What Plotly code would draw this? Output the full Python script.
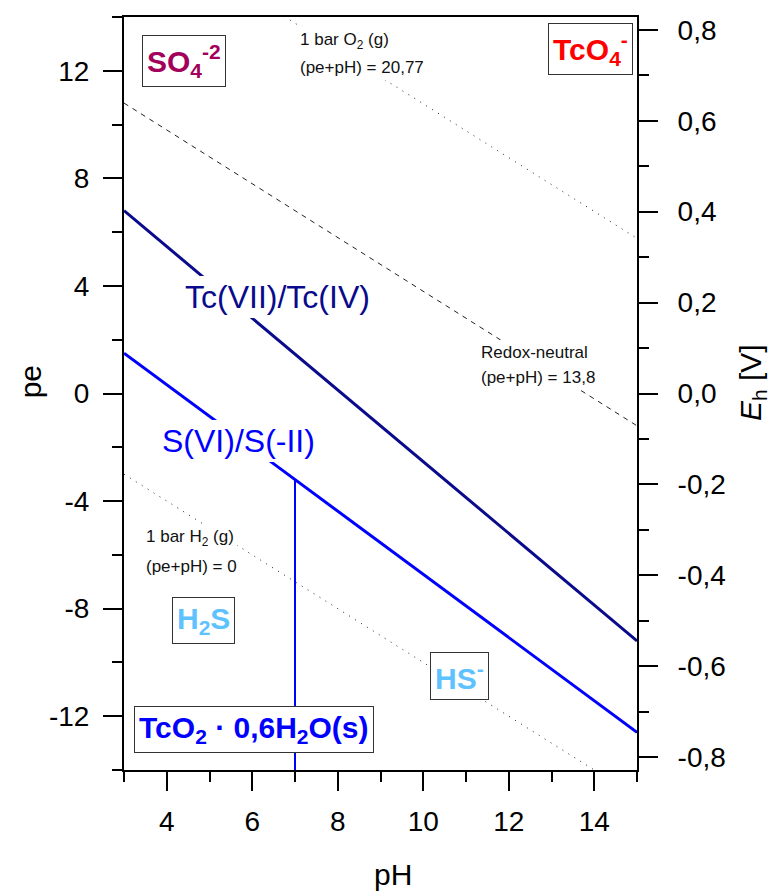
import plotly.graph_objects as go

# ---- data -------------------------------------------------------------
ph_limits = [3, 15]
pe_limits = [-14, 14]
eh_per_pe = 0.05916          # V per pe unit at 25 °C

# Tc(VII)/Tc(IV) boundary
tc_ph = [3, 15]
tc_pe = [6.8, -9.2]

# S(VI)/S(-II) boundary
s_ph = [3, 7, 15]
s_pe = [1.5, -3.2, -12.6]

# H2S / HS- boundary (pKa ~ 7)
hs_ph = [7, 7]
hs_pe = [-3.2, -14]

# water stability / redox reference lines: pe + pH = const
o2_sum = 20.77
neutral_sum = 13.8
h2_sum = 0.0

pe_ticks = [-12, -8, -4, 0, 4, 8, 12]
pe_minor = [-14, -10, -6, -2, 2, 6, 10, 14]
ph_ticks = [4, 6, 8, 10, 12, 14]
ph_minor = [3, 5, 7, 9, 11, 13, 15]
eh_ticks = [-0.8, -0.6, -0.4, -0.2, 0.0, 0.2, 0.4, 0.6, 0.8]
eh_minor = [-0.7, -0.5, -0.3, -0.1, 0.1, 0.3, 0.5, 0.7]


def pe_line(total):
    return [total - p for p in ph_limits]


def comma(v, nd):
    return f"{v:.{nd}f}".replace(".", ",")


FONT = "Arial, Liberation Sans, sans-serif"
NAVY = "#0a0a8c"
BLUE = "#0000ff"

fig = go.Figure()

# reference lines
fig.add_trace(go.Scatter(x=ph_limits, y=pe_line(o2_sum), mode="lines",
                         line=dict(color="#222", width=1, dash="1px,6px"),
                         hoverinfo="skip", showlegend=False))
fig.add_trace(go.Scatter(x=ph_limits, y=pe_line(neutral_sum), mode="lines",
                         line=dict(color="#222", width=1, dash="5px,5px"),
                         hoverinfo="skip", showlegend=False))
fig.add_trace(go.Scatter(x=ph_limits, y=pe_line(h2_sum), mode="lines",
                         line=dict(color="#222", width=1, dash="1px,6px"),
                         hoverinfo="skip", showlegend=False))

# species boundaries
fig.add_trace(go.Scatter(x=tc_ph, y=tc_pe, mode="lines",
                         line=dict(color=NAVY, width=3),
                         hoverinfo="skip", showlegend=False))
fig.add_trace(go.Scatter(x=s_ph, y=s_pe, mode="lines",
                         line=dict(color=BLUE, width=3),
                         hoverinfo="skip", showlegend=False))
fig.add_trace(go.Scatter(x=hs_ph, y=hs_pe, mode="lines",
                         line=dict(color=BLUE, width=2),
                         hoverinfo="skip", showlegend=False))

# carrier trace for the Eh axis
fig.add_trace(go.Scatter(x=ph_limits, y=[0, 0], yaxis="y2", mode="lines",
                         line=dict(width=0), opacity=0,
                         hoverinfo="skip", showlegend=False))

annotations = []


def label(x, y, text, color, size, bold=False, box=False, xanchor="center"):
    if bold:
        text = f"<b>{text}</b>"
    annotations.append(dict(
        x=x, y=y, xref="x", yref="y", text=text, showarrow=False,
        xanchor=xanchor, yanchor="middle",
        font=dict(family=FONT, size=size, color=color),
        bgcolor="white", borderpad=3 if not box else 4,
        bordercolor="#333" if box else "rgba(0,0,0,0)",
        borderwidth=1 if box else 0,
    ))


label(6.58, 3.6, "Tc(VII)/Tc(IV)", NAVY, 32)
label(5.67, -1.75, "S(VI)/S(-II)", BLUE, 32)

label(4.40, 12.37, "SO<sub>4</sub><sup>-2</sup>", "#a3005c", 30, bold=True, box=True)
label(13.92, 12.81, "TcO<sub>4</sub><sup>-</sup>", "#ff0000", 30, bold=True, box=True)
label(4.87, -8.43, "H<sub>2</sub>S", "#5ec2ff", 30, bold=True, box=True)
label(10.84, -10.51, "HS<sup>-</sup>", "#5ec2ff", 30, bold=True, box=True)
label(6.05, -12.51, "TcO<sub>2</sub> · 0,6H<sub>2</sub>O(s)", BLUE, 30, bold=True, box=True)

label(7.05, 13.11, "1 bar O<sub>2</sub> (g)", "#111", 17, xanchor="left")
label(7.05, 12.14, f"(pe+pH) = {comma(o2_sum, 2)}", "#111", 17, xanchor="left")
label(11.28, 1.52, "Redox-neutral", "#111", 17, xanchor="left")
label(11.28, 0.59, f"(pe+pH) = {comma(neutral_sum, 1)}", "#111", 17, xanchor="left")
label(3.44, -5.38, "1 bar H<sub>2</sub> (g)", "#111", 17, xanchor="left")
label(3.44, -6.42, f"(pe+pH) = {comma(h2_sum, 0)}", "#111", 17, xanchor="left")

# axis titles
title_font = dict(family=FONT, size=30, color="black")
annotations += [
    dict(x=-0.183, y=0.515, xref="paper", yref="paper", text="pe",
         textangle=-90, showarrow=False, xanchor="center", yanchor="middle",
         font=title_font),
    dict(x=0.524, y=-0.1625, xref="paper", yref="paper", text="pH",
         showarrow=False, xanchor="center", yanchor="bottom",
         borderpad=0, font=title_font),
    dict(x=1.224, y=0.515, xref="paper", yref="paper",
         text="<i>E</i><sub>h</sub> [V]", textangle=-90, showarrow=False,
         xanchor="center", yanchor="middle", font=title_font),
]

tick_font = dict(family=FONT, size=28, color="black")
minor_style = dict(ticks="outside", ticklen=10, tickwidth=2, tickcolor="black")

fig.update_layout(
    width=775, height=893,
    margin=dict(l=124, r=138, t=17, b=123),
    plot_bgcolor="white", paper_bgcolor="white",
    annotations=annotations,
    xaxis=dict(range=ph_limits, tickvals=ph_ticks,
               ticktext=[str(v) for v in ph_ticks],
               ticks="outside", ticklen=19, tickwidth=2, tickcolor="black",
               minor=dict(tickvals=ph_minor, **minor_style),
               showline=True, linewidth=2, linecolor="black", mirror=True,
               showgrid=False, zeroline=False, tickfont=tick_font,
               ticklabelstandoff=6),
    yaxis=dict(range=pe_limits, tickvals=pe_ticks,
               ticktext=[str(v) for v in pe_ticks],
               ticks="outside", ticklen=19, tickwidth=2, tickcolor="black",
               minor=dict(tickvals=pe_minor, **minor_style),
               showline=True, linewidth=2, linecolor="black",
               showgrid=False, zeroline=False, tickfont=tick_font,
               ticklabelstandoff=8),
    yaxis2=dict(range=[pe_limits[0] * eh_per_pe, pe_limits[1] * eh_per_pe],
                overlaying="y", side="right", anchor="x",
                tickvals=eh_ticks, ticktext=[comma(v, 1) for v in eh_ticks],
                ticks="outside", ticklen=19, tickwidth=2, tickcolor="black",
                minor=dict(tickvals=eh_minor, **minor_style),
                showline=True, linewidth=2, linecolor="black",
                showgrid=False, zeroline=False, tickfont=tick_font,
                ticklabelstandoff=14),
)

fig.write_html("out.html")
